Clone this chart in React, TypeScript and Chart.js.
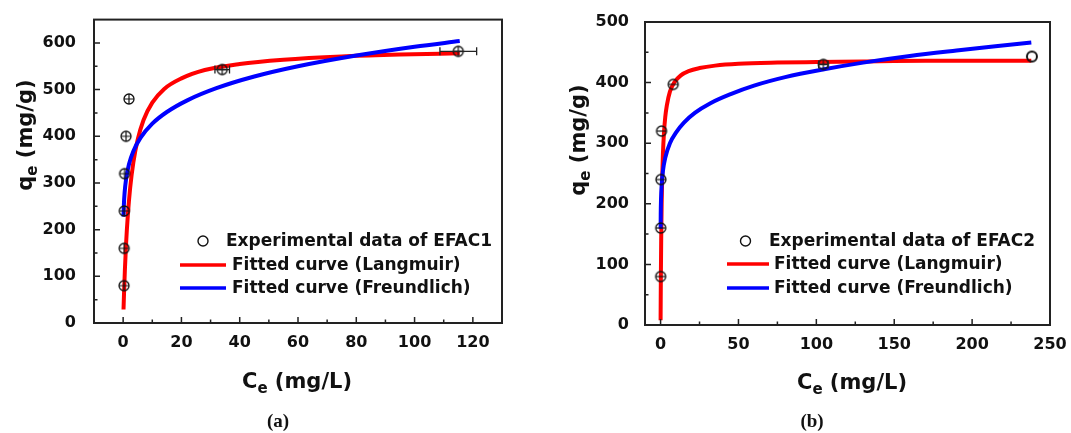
import React, { useEffect, useRef } from "react";
import { Chart, registerables } from "chart.js";
Chart.register(...registerables);

// ---------- Panel (a): EFAC1 ----------
const efac1Ce = [0.3, 0.35, 0.4, 0.5, 1.0, 2.0, 34, 115];
const efac1Qe = [80, 160, 240, 320, 400, 480, 543, 582];
const efac1CeErr = [0, 0, 0, 0, 0, 0, 2.5, 6.3];
const efac1Markers = ["plus", "plus", "plus", "plus", "plus", "plus", "plus", "plus"];

const langmuirACe = [0.13, 0.3, 0.6, 1, 1.6, 2.4, 3.5, 5, 7, 10, 14, 20, 28, 40, 55, 75, 95, 115.5];
const langmuirAQe = [29, 63, 114, 169, 230, 289, 344, 393, 435, 472, 501, 524, 542, 555, 564, 571, 575, 578];
const freundlichACe = [0.12, 0.25, 0.5, 1, 2, 3.5, 6, 10, 15, 22, 32, 45, 60, 80, 100, 115.5];
const freundlichAQe = [228, 253, 279, 308, 340, 368, 397, 427, 452, 477, 503, 528, 550, 573, 592, 604];

const xTicksA = [0, 20, 40, 60, 80, 100, 120];
const xMinorA = [10, 30, 50, 70, 90, 110];
const yTicksA = [0, 100, 200, 300, 400, 500, 600];
const yMinorA = [50, 150, 250, 350, 450, 550];

// ---------- Panel (b): EFAC2 ----------
const efac2Ce = [0.05, 0.1, 0.2, 0.6, 8.1, 104.5, 238.4];
const efac2Qe = [80, 160, 240, 320, 397, 430, 443];
const efac2CeErr = [0, 0, 0, 0, 0, 3, 0];
const efac2Markers = ["minus", "minus", "minus", "minus", "minus", "plus", "plain"];

const langmuirBCe = [0.015, 0.05, 0.1, 0.2, 0.4, 0.7, 1, 1.5, 2.2, 3, 4, 6, 9, 13, 18, 25, 35, 50, 75, 100, 130, 170, 210, 238];
const langmuirBQe = [8, 25, 47, 85, 142, 200, 239, 282, 318, 343, 362, 385, 401, 412, 419, 424, 428, 431, 433, 434, 435, 436, 436, 436];
const freundlichBCe = [0.03, 0.1, 0.3, 0.7, 1.5, 3, 6, 10, 15, 22, 32, 45, 60, 80, 105, 130, 160, 190, 215, 238];
const freundlichBQe = [159, 183, 209, 231, 254, 276, 300, 318, 334, 350, 366, 381, 395, 409, 422, 433, 444, 453, 460, 466];

const xTicksB = [0, 50, 100, 150, 200, 250];
const xMinorB = [25, 75, 125, 175, 225];
const yTicksB = [0, 100, 200, 300, 400, 500];
const yMinorB = [50, 150, 250, 350, 450];

const FONT = '"DejaVu Sans", sans-serif';
const INK = "#111";

function makeMarker(kind: string): HTMLCanvasElement {
  const c = document.createElement("canvas");
  c.width = 14;
  c.height = 14;
  const g = c.getContext("2d")!;
  g.strokeStyle = INK;
  g.lineWidth = kind === "plain" ? 2 : 1.3;
  g.beginPath();
  g.arc(7, 7, 5, 0, Math.PI * 2);
  g.stroke();
  g.lineWidth = 1.2;
  if (kind === "plus" || kind === "minus") {
    g.beginPath();
    g.moveTo(2, 7);
    g.lineTo(12, 7);
    if (kind === "plus") {
      g.moveTo(7, 2);
      g.lineTo(7, 12);
    }
    g.stroke();
  }
  return c;
}

type Panel = {
  ce: number[]; qe: number[]; ceErr: number[]; markers: string[];
  langCe: number[]; langQe: number[]; freCe: number[]; freQe: number[];
  xMin: number; xMax: number; yMin: number; yMax: number;
  xTicks: number[]; xMinor: number[]; yTicks: number[]; yMinor: number[];
  expLabel: string; caption: string;
  width: number; areaLeft: number; areaRight: number; areaTop: number; areaBottom: number;
  yTickPad: number;
  xTitleX: number; xTitleBase: number; yTitleBase: number; yTitleY: number;
  captionX: number;
  lg: { mx: number; t1: number; l0: number; l1: number; t2: number; y1: number; y2: number; y3: number };
};

function drawSubTitle(ctx: CanvasRenderingContext2D, main: string, sub: string, rest: string) {
  const big = `bold 21px ${FONT}`;
  const small = `bold 15px ${FONT}`;
  ctx.font = big;
  const w1 = ctx.measureText(main).width;
  const w3 = ctx.measureText(rest).width;
  ctx.font = small;
  const w2 = ctx.measureText(sub).width;
  const total = w1 + w2 + w3;
  let x = -total / 2;
  ctx.textAlign = "left";
  ctx.textBaseline = "alphabetic";
  ctx.fillStyle = INK;
  ctx.font = big;
  ctx.fillText(main, x, 0);
  x += w1;
  ctx.font = small;
  ctx.fillText(sub, x, 5);
  x += w2;
  ctx.font = big;
  ctx.fillText(rest, x, 0);
}

function decor(p: Panel) {
  return {
    id: "decor",
    afterDatasetsDraw(chart: any) {
      const ctx = chart.ctx as CanvasRenderingContext2D;
      const xs = chart.scales.x;
      const ys = chart.scales.y;
      ctx.save();
      ctx.strokeStyle = "#222";
      ctx.lineWidth = 1.3;
      p.ce.forEach((c, i) => {
        const e = p.ceErr[i];
        if (!e) return;
        const y = ys.getPixelForValue(p.qe[i]);
        const x0 = xs.getPixelForValue(c - e);
        const x1 = xs.getPixelForValue(c + e);
        ctx.beginPath();
        ctx.moveTo(x0, y);
        ctx.lineTo(x1, y);
        ctx.moveTo(x0, y - 4);
        ctx.lineTo(x0, y + 4);
        ctx.moveTo(x1, y - 4);
        ctx.lineTo(x1, y + 4);
        ctx.stroke();
      });
      ctx.restore();
    },
    afterDraw(chart: any) {
      const ctx = chart.ctx as CanvasRenderingContext2D;
      const a = chart.chartArea;
      const xs = chart.scales.x;
      const ys = chart.scales.y;
      ctx.save();
      // frame
      ctx.strokeStyle = "#222";
      ctx.lineWidth = 2;
      ctx.strokeRect(a.left, a.top, a.right - a.left, a.bottom - a.top);
      // inward ticks
      ctx.lineWidth = 1.5;
      ctx.beginPath();
      p.xTicks.forEach((v) => {
        const x = xs.getPixelForValue(v);
        ctx.moveTo(x, a.bottom);
        ctx.lineTo(x, a.bottom - 6);
      });
      p.xMinor.forEach((v) => {
        const x = xs.getPixelForValue(v);
        ctx.moveTo(x, a.bottom);
        ctx.lineTo(x, a.bottom - 3.5);
      });
      p.yTicks.forEach((v) => {
        const y = ys.getPixelForValue(v);
        ctx.moveTo(a.left, y);
        ctx.lineTo(a.left + 6, y);
      });
      p.yMinor.forEach((v) => {
        const y = ys.getPixelForValue(v);
        ctx.moveTo(a.left, y);
        ctx.lineTo(a.left + 3.5, y);
      });
      ctx.stroke();

      // axis titles
      ctx.save();
      ctx.translate(p.xTitleX, p.xTitleBase);
      drawSubTitle(ctx, "C", "e", " (mg/L)");
      ctx.restore();
      ctx.save();
      ctx.translate(p.yTitleBase, p.yTitleY);
      ctx.rotate(-Math.PI / 2);
      drawSubTitle(ctx, "q", "e", " (mg/g)");
      ctx.restore();

      // legend
      const lg = p.lg;
      ctx.fillStyle = INK;
      ctx.font = `bold 17px ${FONT}`;
      ctx.textAlign = "left";
      ctx.textBaseline = "middle";
      ctx.strokeStyle = INK;
      ctx.lineWidth = 1.4;
      ctx.beginPath();
      ctx.arc(lg.mx, lg.y1, 5, 0, Math.PI * 2);
      ctx.stroke();
      ctx.fillText(p.expLabel, lg.t1, lg.y1 + 1);
      const ds = chart.data.datasets;
      [[ds[1], lg.y2], [ds[2], lg.y3]].forEach(([d, y]: any) => {
        ctx.strokeStyle = d.borderColor;
        ctx.lineWidth = 3.5;
        ctx.beginPath();
        ctx.moveTo(lg.l0, y);
        ctx.lineTo(lg.l1, y);
        ctx.stroke();
        ctx.fillText(d.label, lg.t2, y + 1);
      });

      // caption
      ctx.font = `bold 19px "Liberation Serif", serif`;
      ctx.textAlign = "center";
      ctx.textBaseline = "alphabetic";
      ctx.fillText(p.caption, p.captionX, 427);
      ctx.restore();
    },
  };
}

function PanelChart({ p, left }: { p: Panel; left: number }) {
  const ref = useRef<HTMLCanvasElement>(null);
  useEffect(() => {
    const canvas = ref.current!;
    const markerImgs: Record<string, HTMLCanvasElement> = {
      plus: makeMarker("plus"),
      minus: makeMarker("minus"),
      plain: makeMarker("plain"),
    };
    const tickFont = { family: FONT, size: 16, weight: "bold" as const };
    const chart = new Chart(canvas, {
      type: "scatter",
      data: {
        datasets: [
          {
            label: p.expLabel,
            data: p.ce.map((c, i) => ({ x: c, y: p.qe[i] })),
            pointStyle: p.markers.map((m) => markerImgs[m]) as any,
            pointRadius: 6,
            showLine: false,
            order: 0,
          },
          {
            label: "Fitted curve (Langmuir)",
            data: p.langCe.map((c, i) => ({ x: c, y: p.langQe[i] })),
            showLine: true,
            borderColor: "#ff0000",
            borderWidth: 4,
            pointRadius: 0,
            cubicInterpolationMode: "monotone",
            fill: false,
            order: 2,
          },
          {
            label: "Fitted curve (Freundlich)",
            data: p.freCe.map((c, i) => ({ x: c, y: p.freQe[i] })),
            showLine: true,
            borderColor: "#0000ff",
            borderWidth: 4,
            pointRadius: 0,
            cubicInterpolationMode: "monotone",
            fill: false,
            order: 1,
          },
        ] as any,
      },
      options: {
        responsive: false,
        animation: false,
        devicePixelRatio: 1,
        events: [],
        layout: {
          padding: { left: 0, top: p.areaTop, right: p.width - p.areaRight, bottom: 0 },
        },
        plugins: {
          legend: { display: false },
          tooltip: { enabled: false },
          title: { display: false },
        },
        scales: {
          x: {
            type: "linear",
            position: "bottom",
            min: p.xMin,
            max: p.xMax,
            grid: { display: false },
            border: { display: false },
            ticks: { color: INK, font: tickFont, padding: 2, autoSkip: false, maxRotation: 0 },
            afterBuildTicks: (s: any) => {
              s.ticks = p.xTicks.map((v) => ({ value: v }));
            },
            afterFit: (s: any) => {
              s.height = 433 - p.areaBottom;
            },
          },
          y: {
            type: "linear",
            position: "left",
            min: p.yMin,
            max: p.yMax,
            grid: { display: false },
            border: { display: false },
            ticks: { color: INK, font: tickFont, padding: p.yTickPad, autoSkip: false },
            afterBuildTicks: (s: any) => {
              s.ticks = p.yTicks.map((v) => ({ value: v }));
            },
            afterFit: (s: any) => {
              s.width = p.areaLeft;
            },
          },
        },
      } as any,
      plugins: [decor(p)],
    });
    return () => chart.destroy();
  }, [p]);
  return (
    <canvas
      ref={ref}
      width={p.width}
      height={433}
      style={{ position: "absolute", left, top: 0, width: p.width, height: 433 }}
    />
  );
}

const panelA: Panel = {
  ce: efac1Ce, qe: efac1Qe, ceErr: efac1CeErr, markers: efac1Markers,
  langCe: langmuirACe, langQe: langmuirAQe, freCe: freundlichACe, freQe: freundlichAQe,
  xMin: -10, xMax: 130, yMin: 0, yMax: 650,
  xTicks: xTicksA, xMinor: xMinorA, yTicks: yTicksA, yMinor: yMinorA,
  expLabel: "Experimental data of EFAC1", caption: "(a)",
  width: 540, areaLeft: 94, areaRight: 502, areaTop: 17, areaBottom: 323,
  yTickPad: 10,
  xTitleX: 297, xTitleBase: 388, yTitleBase: 32, yTitleY: 135,
  captionX: 278,
  lg: { mx: 203, t1: 226, l0: 180, l1: 226, t2: 232, y1: 241, y2: 265, y3: 288 },
};

const panelB: Panel = {
  ce: efac2Ce, qe: efac2Qe, ceErr: efac2CeErr, markers: efac2Markers,
  langCe: langmuirBCe, langQe: langmuirBQe, freCe: freundlichBCe, freQe: freundlichBQe,
  xMin: -10, xMax: 250, yMin: 0, yMax: 500,
  xTicks: xTicksB, xMinor: xMinorB, yTicks: yTicksB, yMinor: yMinorB,
  expLabel: "Experimental data of EFAC2", caption: "(b)",
  width: 531, areaLeft: 105, areaRight: 510, areaTop: 22, areaBottom: 325,
  yTickPad: 8,
  xTitleX: 312, xTitleBase: 389, yTitleBase: 45, yTitleY: 140,
  captionX: 272,
  lg: { mx: 205.5, t1: 229, l0: 187, l1: 229, t2: 234, y1: 241, y2: 264, y3: 288 },
};

export default function App() {
  return (
    <div
      style={{
        position: "fixed",
        left: 0,
        top: 0,
        width: 1071,
        height: 433,
        background: "#fff",
        overflow: "hidden",
      }}
    >
      <PanelChart p={panelA} left={0} />
      <PanelChart p={panelB} left={540} />
    </div>
  );
}
